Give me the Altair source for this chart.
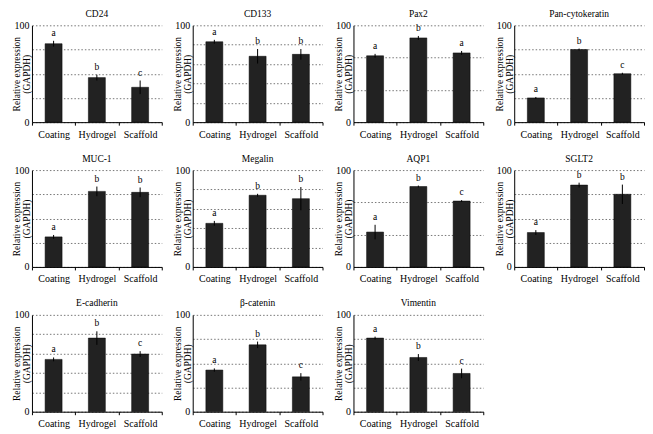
import altair as alt
import pandas as pd

markers = ["CD24", "CD133", "Pax2", "Pan-cytokeratin", "MUC-1", "Megalin",
           "AQP1", "SGLT2", "E-cadherin", "β-catenin", "Vimentin"]
groups = ["Coating", "Hydrogel", "Scaffold"]
means = [[81, 46, 36], [83, 68, 70], [68.5, 87, 71.5], [25, 75, 50],
         [31, 78, 77], [45, 74, 70.5], [36, 83, 68], [35.5, 84.5, 75],
         [54, 76, 59.5], [43, 69, 36], [76, 56, 39.5]]
errors = [[3, 3, 7], [2, 7.5, 5.5], [2, 2, 2], [1, 1, 1],
          [2, 5, 5], [2.5, 1.5, 12], [7.5, 1, 1], [2.5, 2.5, 10],
          [2, 7, 3], [1.7, 3.4, 3.8], [1.5, 3.5, 5]]
letters = [["a", "b", "c"], ["a", "b", "b"], ["a", "b", "a"], ["a", "b", "c"],
           ["a", "b", "b"], ["a", "b", "b"], ["a", "b", "c"], ["a", "b", "b"],
           ["a", "b", "c"], ["a", "b", "c"], ["a", "b", "c"]]
grid_lines = [[25, 50, 75, 100], [20, 40, 60, 80, 100], [33.33, 66.67, 100],
              [25, 50, 75, 100], [25, 50, 75, 100], [20, 40, 60, 80, 100],
              [33.33, 66.67, 100], [25, 50, 75, 100], [20, 40, 60, 80, 100],
              [25, 50, 75, 100], [25, 50, 75, 100]]

W, H = 130, 97
FONT = "Liberation Serif"
yscale = alt.Scale(domain=[0, 100], nice=False, zero=True)
xscale = alt.Scale(domain=groups, paddingInner=0, paddingOuter=0)


def panel(i):
    df = pd.DataFrame({"group": groups, "mean": means[i], "err": errors[i],
                       "letter": letters[i]})
    df["lo"] = df["mean"] - df["err"]
    df["hi"] = df["mean"] + df["err"]

    xaxis = alt.Axis(title=None, labelAngle=0, tickBand="extent", tickSize=3,
                     labelPadding=4, labelFontSize=10, labelFont=FONT)
    yaxis = alt.Axis(values=[0] + grid_lines[i],
                     labelExpr="(datum.value == 0 || datum.value == 100) ? datum.label : ''",
                     title=["Relative expression", "(GAPDH)"],
                     titleX=-10, titleY=H / 2, titleAngle=-90,
                     titleBaseline="bottom", titleAlign="center",
                     titleFont=FONT, titleFontSize=9.5, titleFontWeight="normal",
                     titleLineHeight=10, ticks=False, labelPadding=3,
                     labelFontSize=10, labelFont=FONT, grid=True,
                     gridDash=[1.5, 2], gridColor="#777", gridWidth=1)

    x = alt.X("group:N", scale=xscale, sort=groups, axis=xaxis)
    base = alt.Chart(df).encode(x=x)
    bars = base.mark_bar(size=17, color="#222222", stroke="#000",
                         strokeWidth=0.5).encode(
        y=alt.Y("mean:Q", scale=yscale, axis=yaxis))
    err = base.mark_rule(color="black", strokeWidth=1).encode(
        y=alt.Y("lo:Q", scale=yscale, axis=yaxis),
        y2="hi:Q")
    txt = base.mark_text(font=FONT, fontSize=9.5, dy=-5,
                         baseline="alphabetic", color="black").encode(
        y=alt.Y("hi:Q", scale=yscale, axis=yaxis),
        text="letter:N")
    return alt.layer(bars, err, txt).properties(
        width=W, height=H,
        title=alt.Title(markers[i], font=FONT, fontSize=9.5, fontWeight="normal",
                        offset=2, color="black"))


rows = [
    alt.hconcat(*[panel(i) for i in range(0, 4)], spacing=10),
    alt.hconcat(*[panel(i) for i in range(4, 8)], spacing=10),
    alt.hconcat(*[panel(i) for i in range(8, 11)], spacing=10),
]
chart = alt.vconcat(*rows, spacing=14).properties(
    padding={"left": 4, "top": 0, "right": 0, "bottom": 0}
).configure_view(stroke=None).configure_axis(
    domainColor="black", tickColor="black", labelColor="black",
    titleColor="black", domainWidth=1, tickWidth=1)

chart.save("out.html", embed_options={"renderer": "svg", "actions": False})
